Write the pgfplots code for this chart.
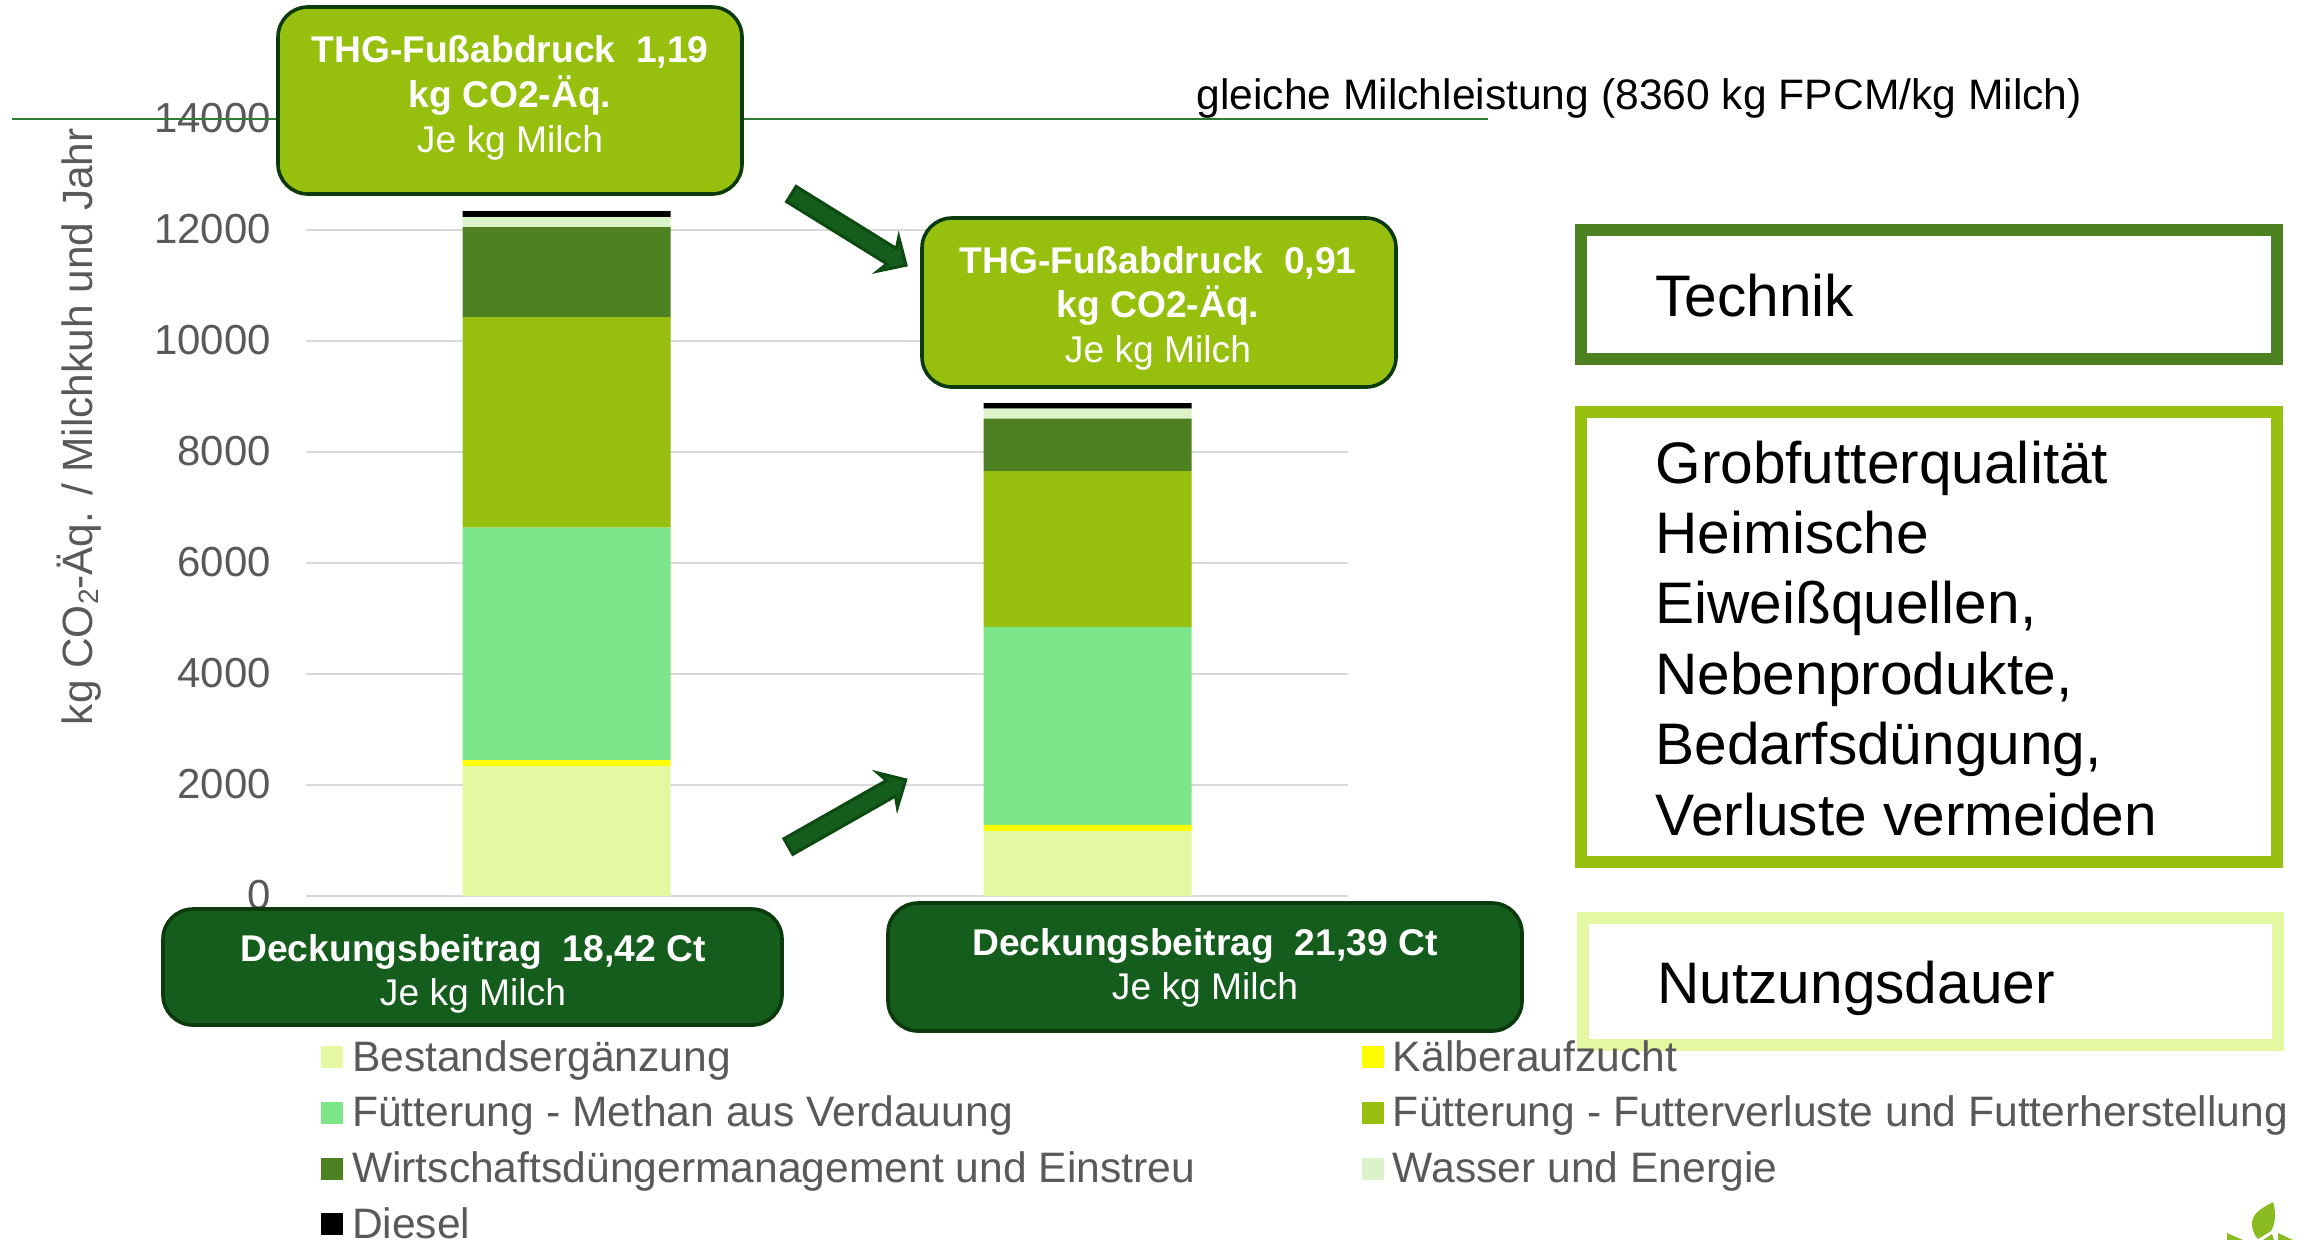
\documentclass[border=0pt]{standalone}
\usepackage{pgfplots}
\pgfplotsset{compat=1.18}
\usepackage{fontspec}
\setmainfont{Liberation Sans}
\definecolor{cBest}{HTML}{E4F7A1}
\definecolor{cKalb}{HTML}{FFFF00}
\definecolor{cMeth}{HTML}{7CE689}
\definecolor{cFutt}{HTML}{97C00E}
\definecolor{cWirt}{HTML}{4D8021}
\definecolor{cWass}{HTML}{DCF2C8}
\definecolor{cGrid}{HTML}{D9D9D9}
\definecolor{cText}{HTML}{595959}
\definecolor{cDark}{HTML}{145D1C}
\definecolor{cEdge}{HTML}{0B3A0C}
\definecolor{cArr}{HTML}{0C4A12}
\definecolor{cLine}{HTML}{2E7D32}
\definecolor{cLeaf}{HTML}{8ABB22}
\begin{document}
\begin{tikzpicture}
\path[use as bounding box] (0,0) rectangle (1155pt,-619.5pt);
\begin{scope}[x=0.5pt,y=-0.5pt]
\draw[line width=6pt,fill=white,draw=cBest] (1583,918) rectangle (2278,1045);
\end{scope}
\begin{axis}[
  at={(153pt,-448pt)}, anchor=south west,
  scale only axis, width=521pt, height=388.5pt,
  xmin=-0.5, xmax=1.5, ymin=0, ymax=14000,
  ybar stacked, bar width=104pt,
  axis x line=bottom, axis y line=left,
  x axis line style={draw=cGrid,line width=1.2pt,-},
  y axis line style={draw=none},
  xtick=\empty,
  ytick={0,2000,...,14000},
  major tick length=0pt,
  ymajorgrids, grid style={draw=cGrid,line width=1.2pt},
  scaled y ticks=false,
  /pgf/number format/assume math mode=true,
  /pgf/number format/1000 sep={},
  tick label style={font=\fontsize{21}{25}\selectfont,text=cText},
  yticklabel style={xshift=-14pt,yshift=0.5pt},
  every axis y label/.style={at={(axis description cs:-0.218,0.604)},rotate=90,anchor=center},
  ylabel={\fontsize{21.2}{25}\selectfont\color{cText}kg CO\raisebox{-3pt}{\fontsize{14}{16}\selectfont 2}-Äq. / Milchkuh und Jahr},
  legend columns=2,
  legend cell align=left,
  legend style={at={(0.0144,-0.187)},anchor=north west,draw=none,fill=none,inner sep=0pt,outer sep=0pt,
    font=\fontsize{21.3}{25}\selectfont,text=cText,row sep=7.8pt,
    nodes={inner sep=0pt,text height=15pt,text depth=5pt},
    /tikz/column 1/.style={column sep=4.5pt},
    /tikz/column 2/.style={column sep=83.5pt},
    /tikz/column 3/.style={column sep=4.5pt}},
  legend image code/.code={\path[#1,draw=none] (0pt,-3.5pt) rectangle (11pt,7.5pt);},
]
\addplot[fill=cBest,draw=none] coordinates {(0,2340) (1,1170)};
\addplot[fill=cKalb,draw=none] coordinates {(0,108) (1,114)};
\addplot[fill=cMeth,draw=none] coordinates {(0,4192) (1,3566)};
\addplot[fill=cFutt,draw=none] coordinates {(0,3792) (1,2808)};
\addplot[fill=cWirt,draw=none] coordinates {(0,1622) (1,942)};
\addplot[fill=cWass,draw=none] coordinates {(0,180) (1,180)};
\addplot[fill=black,draw=none] coordinates {(0,108) (1,103)};
\legend{Bestandsergänzung,Kälberaufzucht,Fütterung - Methan aus Verdauung,Fütterung - Futterverluste und Futterherstellung,Wirtschaftsdüngermanagement und Einstreu,Wasser und Energie,Diesel}
\end{axis}
\begin{scope}[x=0.5pt,y=-0.5pt]
\draw[cLine,line width=0.8pt] (12,119) -- (1488,119);
\tikzset{
  lab/.style={anchor=base,text=white,font=\fontsize{18.6}{22}\selectfont,inner sep=0pt},
  bx/.style={line width=1.8pt,rounded corners=15pt},
  pan/.style={line width=6pt,fill=white},
  ptx/.style={anchor=base west,text=black,inner sep=0pt,font=\fontsize{29.3}{35}\selectfont}
}
% callouts
\draw[bx,draw=cEdge,fill=cFutt] (278,7) rectangle (742,194);
\node[lab] at (510,62) {\bfseries THG-Fußabdruck\ \ 1,19};
\node[lab] at (510,107) {\bfseries kg CO2-Äq.};
\node[lab] at (510,152) {Je kg Milch};
\draw[bx,draw=cEdge,fill=cFutt] (922,218) rectangle (1396,387);
\node[lab] at (1158,273) {\bfseries THG-Fußabdruck\ \ 0,91};
\node[lab] at (1158,317) {\bfseries kg CO2-Äq.};
\node[lab] at (1158,362) {Je kg Milch};
\draw[bx,draw=cEdge,fill=cDark] (163,909) rectangle (782,1025);
\node[lab] at (473,961) {\bfseries Deckungsbeitrag\ \ 18,42 Ct};
\node[lab] at (473,1005) {Je kg Milch};
\draw[bx,draw=cEdge,fill=cDark] (888,903) rectangle (1522,1031);
\node[lab] at (1205,955) {\bfseries Deckungsbeitrag\ \ 21,39 Ct};
\node[lab] at (1205,999) {Je kg Milch};
% arrows
\draw[cArr,fill=cDark,line width=1.5pt,miter limit=8,shift={(790.5,193.5)},rotate=-31.8]
 (1,-9) -- (119,-9) -- (115,-20) -- (136,0) -- (115,20) -- (119,9) -- (1,9) -- cycle;
\draw[cArr,fill=cDark,line width=1.5pt,miter limit=8,shift={(787.5,847)},rotate=29.6]
 (1,-9) -- (119,-9) -- (115,-20) -- (136,0) -- (115,20) -- (119,9) -- (1,9) -- cycle;
% header
\node[text=black,font=\fontsize{21.3}{25}\selectfont,anchor=west,inner sep=0pt] at (1196,98.5) {gleiche Milchleistung (8360 kg FPCM/kg Milch)};
% panels
\draw[pan,draw=cWirt] (1581,230) rectangle (2277,359);
\node[ptx] at (1655,316) {Technik};
\draw[pan,draw=cFutt] (1581,412) rectangle (2277,862);
\foreach \yy/\lbl in {483/Grobfutterqualität,553.4/Heimische,623.8/{Eiweißquellen,},694.2/{Nebenprodukte,},764.6/{Bedarfsdüngung,},835/Verluste vermeiden}{
  \node[ptx] at (1655,\yy) {\lbl};
}
\node[ptx] at (1657,1003) {Nutzungsdauer};
% logo
\fill[cLeaf] (2273,1202) .. controls (2258,1210) and (2251,1215) .. (2252,1226) .. controls (2253,1232) and (2255,1236) .. (2258,1239) -- (2271,1231) .. controls (2276,1222) and (2276,1212) .. (2273,1202) -- cycle;
\fill[cLeaf] (2227,1233) -- (2243,1240) -- (2227,1240) -- cycle;
\fill[cLeaf] (2272,1234) -- (2274,1240) -- (2263,1240) -- cycle;
\fill[cLeaf] (2278,1233) -- (2293,1240) -- (2278,1240) -- cycle;
\end{scope}
\end{tikzpicture}
\end{document}
